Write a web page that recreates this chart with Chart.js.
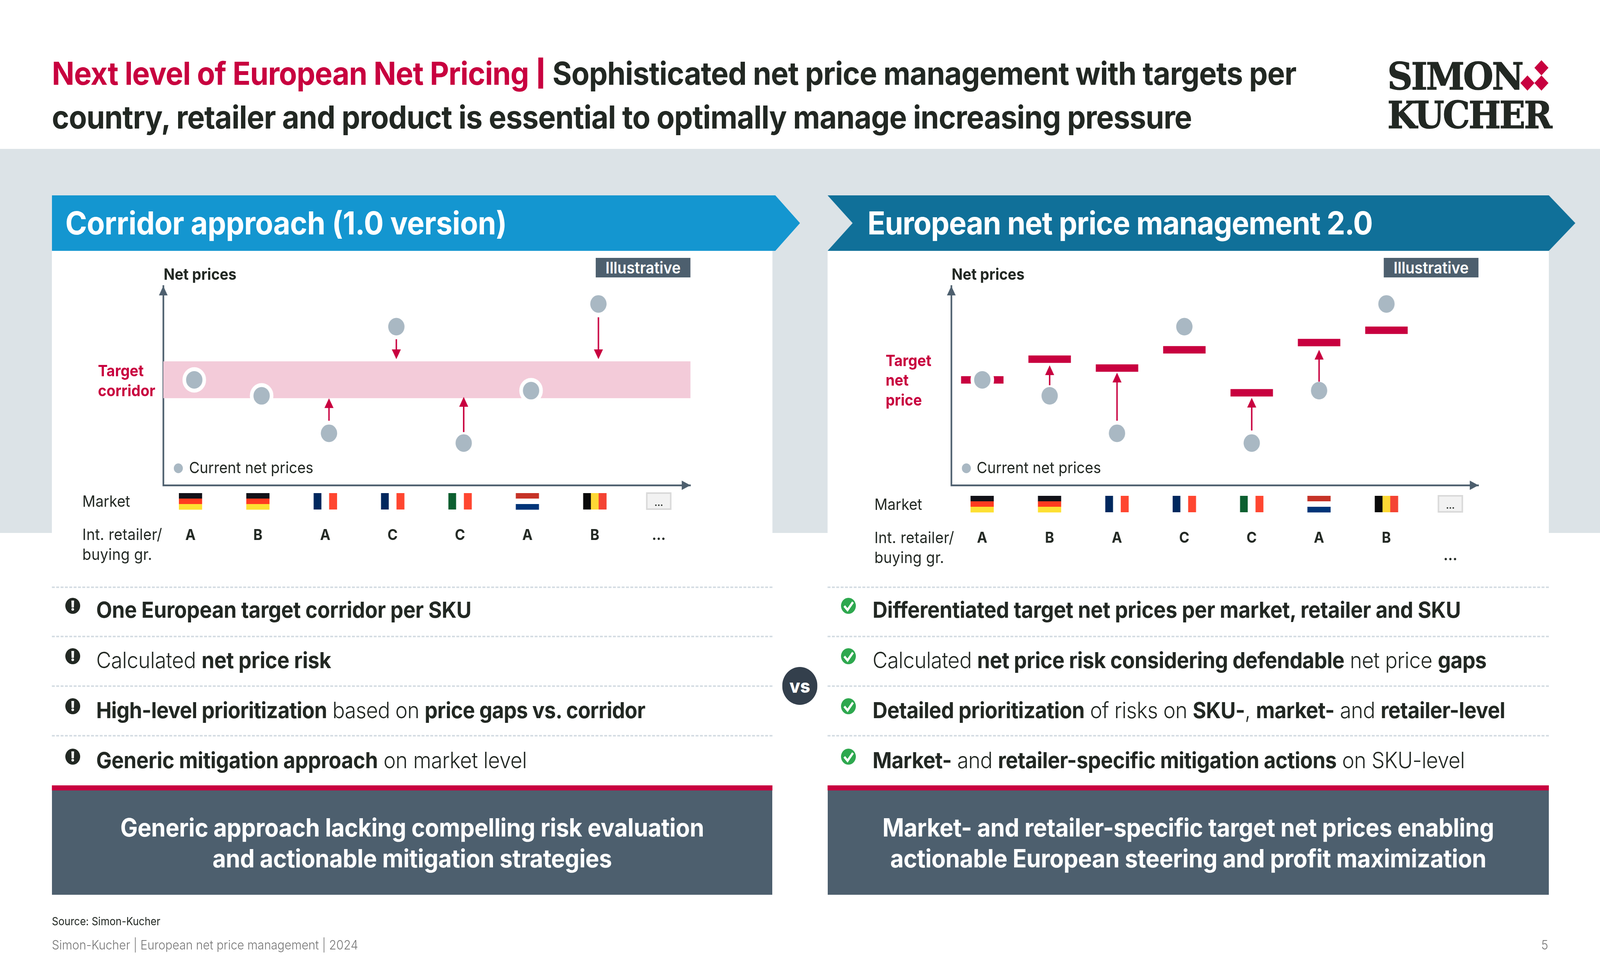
<!DOCTYPE html>
<html>
<head>
<meta charset="utf-8">
<title>European net price management</title>
<script src="https://cdn.jsdelivr.net/npm/chart.js@4"></script>
<style>
  html, body { margin: 0; padding: 0; background: #fff; overflow: hidden; }
  #page { position: relative; width: 4410px; height: 2480px; overflow: hidden; font-family: Inter, sans-serif; color: #222823; transform-origin: 0 0; }
  #page > * { position: absolute; }
  .t { white-space: nowrap; line-height: 1; }
  b { font-weight: 700; }
  .title { left: 143px; top: 132px; font-size: 81.5px; line-height: 112px; font-weight: 700; letter-spacing: -1.2px; white-space: nowrap; }
  .title em { font-style: normal; color: #c8003f; }
  .title i { font-style: normal; display: inline-block; transform: scaleY(0.8); -webkit-text-stroke: 2px #c8003f; }
  .logo { font: 700 96px 'DejaVu Serif'; letter-spacing: -4px; color: #222823; -webkit-text-stroke: 1.5px #222823; transform-origin: 0 0; }
  .band { left: 0; top: 381px; width: 4410px; height: 983px; background: #dce3e7; }
  .panel { top: 642px; height: 722px; background: #fff; }
  .head { top: 500px; height: 142px; color: #fff; font-size: 81px; font-weight: 700; line-height: 142px; white-space: nowrap; }
  .chart { top: 642px; }
  .tag { top: 660px; height: 50px; width: 261px; background: #4d5f6e; color: #fff; font-size: 41px; font-weight: 600; line-height: 50px; text-align: center; }
  .small { font-size: 40px; font-weight: 400; }
  .strong { font-size: 40px; font-weight: 700; }
  .red { color: #c8003f; }
  .dot { width: 25px; height: 25px; border-radius: 50%; background: #a9b8c3; top: 1186px; }
  .rule { height: 0; border-top: 4px dashed #d5dde3; }
  .row { font-size: 57px; font-weight: 300; line-height: 70px; white-space: nowrap; letter-spacing: -0.5px; }
  .icon { width: 41px; height: 41px; border-radius: 50%; color: #fff; text-align: center; font-weight: 900; font-size: 35px; line-height: 41px; }
  .icon svg { display: block; }
  .warn { background: #222823; }
  .ok { background: #2ea84f; }
  .redbar { top: 2010px; height: 13px; background: #c8003f; }
  .box { top: 2023px; height: 267px; background: #4d5f6e; color: #fff; font-size: 64px; font-weight: 700; line-height: 79px; text-align: center; letter-spacing: -0.5px; }
  .box div { margin-top: 55px; }
  .vs { left: 2156px; top: 1707px; width: 97px; height: 97px; border-radius: 50%; background: #333f4c; color: #fff; font-size: 48px; font-weight: 800; line-height: 97px; text-align: center; }
</style>
</head>
<body>
<div id="page">
  <div class="title"><em>Next level of European Net Pricing <i>|</i></em> Sophisticated net price management with targets per<br>country, retailer and product is essential to optimally manage increasing pressure</div>

  <!-- logo -->
  <div class="t logo" style="left:3824px;top:139px;">SIMON</div>
  <div class="t logo" style="left:3824px;top:238px;transform:scaleX(0.98);">KUCHER</div>
  <svg style="left:4190px;top:154px;" width="80" height="80" viewBox="0 0 80 80" fill="#c8003f">
    <path d="M58.6 0 L78 19.5 L58.6 39 L39.2 19.5 Z M20 39 L39.4 58.5 L20 78 L0.6 58.5 Z M58.6 39 L78 58.5 L58.6 78 L39.2 58.5 Z"/>
  </svg>

  <div class="band"></div>
  <div class="panel" style="left:143px;width:1986px;"></div>
  <div class="panel" style="left:2281px;width:1988px;"></div>

  <div class="head" style="left:143px;width:2062px;padding-left:37px;letter-spacing:-0.65px;box-sizing:border-box;background:#1496d0;clip-path:polygon(0 0,1994px 0,2062px 71px,1994px 142px,0 142px);">Corridor approach (1.0 version)</div>
  <div class="head" style="left:2281px;width:2061px;padding-left:110px;letter-spacing:-1.33px;box-sizing:border-box;background:#107099;clip-path:polygon(0 0,1988px 0,2061px 71px,1988px 142px,0 142px,69px 71px);">European net price management 2.0</div>

  <canvas id="leftChart" class="chart" style="left:143px;" width="1986" height="858"></canvas>
  <canvas id="rightChart" class="chart" style="left:2281px;" width="1988" height="858"></canvas>

  <!-- left chart labels -->
  <div class="tag" style="left:1642px;">Illustrative</div>
  <div class="t strong" style="left:451px;top:682px;">Net prices</div>
  <div class="t strong red" style="left:270px;top:929px;">Target</div>
  <div class="t strong red" style="left:270px;top:980px;">corridor</div>
  <div class="dot" style="left:479px;"></div>
  <div class="t small" style="left:521px;top:1177px;">Current net prices</div>
  <div class="t small" style="left:227px;top:1263px;">Market</div>
  <div class="t small" style="left:227px;top:1348px;letter-spacing:0.4px;">Int. retailer/</div>
  <div class="t small" style="left:227px;top:1399px;letter-spacing:0.4px;">buying gr.</div>

  <!-- right chart labels -->
  <div class="tag" style="left:3814px;">Illustrative</div>
  <div class="t strong" style="left:2623px;top:682px;">Net prices</div>
  <div class="t strong red" style="left:2441px;top:903px;">Target</div>
  <div class="t strong red" style="left:2441px;top:953px;">net</div>
  <div class="t strong red" style="left:2441px;top:1004px;">price</div>
  <div class="dot" style="left:2651px;"></div>
  <div class="t small" style="left:2692px;top:1177px;">Current net prices</div>
  <div class="t small" style="left:2410px;top:1271px;">Market</div>
  <div class="t small" style="left:2410px;top:1356px;letter-spacing:0.4px;">Int. retailer/</div>
  <div class="t small" style="left:2410px;top:1407px;letter-spacing:0.4px;">buying gr.</div>

  <!-- left list -->
  <div class="rule" style="left:143px;top:1501px;width:1986px;"></div>
  <div class="rule" style="left:143px;top:1627px;width:1986px;"></div>
  <div class="rule" style="left:143px;top:1754px;width:1986px;"></div>
  <div class="rule" style="left:143px;top:1881px;width:1986px;"></div>
  <div class="icon warn" style="left:180px;top:1530px;">!</div>
  <div class="icon warn" style="left:180px;top:1659px;">!</div>
  <div class="icon warn" style="left:180px;top:1787px;">!</div>
  <div class="icon warn" style="left:180px;top:1916px;">!</div>
  <div class="row" style="left:265px;top:1526px;"><b>One European target corridor per SKU</b></div>
  <div class="row" style="left:265px;top:1655px;">Calculated <b>net price risk</b></div>
  <div class="row" style="left:265px;top:1783px;letter-spacing:-0.9px;"><b>High-level prioritization</b> based on <b>price gaps vs. corridor</b></div>
  <div class="row" style="left:265px;top:1911px;"><b>Generic mitigation approach</b> on market level</div>

  <!-- right list -->
  <div class="rule" style="left:2281px;top:1501px;width:1988px;"></div>
  <div class="rule" style="left:2281px;top:1627px;width:1988px;"></div>
  <div class="rule" style="left:2281px;top:1754px;width:1988px;"></div>
  <div class="rule" style="left:2281px;top:1881px;width:1988px;"></div>
  <div class="icon ok" style="left:2318px;top:1530px;"><svg width="41" height="41"><polyline points="9,21 18,31 33,11" fill="none" stroke="#fff" stroke-width="6"/></svg></div>
  <div class="icon ok" style="left:2318px;top:1659px;"><svg width="41" height="41"><polyline points="9,21 18,31 33,11" fill="none" stroke="#fff" stroke-width="6"/></svg></div>
  <div class="icon ok" style="left:2318px;top:1787px;"><svg width="41" height="41"><polyline points="9,21 18,31 33,11" fill="none" stroke="#fff" stroke-width="6"/></svg></div>
  <div class="icon ok" style="left:2318px;top:1916px;"><svg width="41" height="41"><polyline points="9,21 18,31 33,11" fill="none" stroke="#fff" stroke-width="6"/></svg></div>
  <div class="row" style="left:2405px;top:1526px;"><b>Differentiated target net prices per market, retailer and SKU</b></div>
  <div class="row" style="left:2405px;top:1655px;letter-spacing:-0.7px;">Calculated <b>net price risk considering defendable</b> net price <b>gaps</b></div>
  <div class="row" style="left:2405px;top:1783px;letter-spacing:-0.76px;"><b>Detailed prioritization</b> of risks on <b>SKU-</b>, <b>market-</b> and <b>retailer-level</b></div>
  <div class="row" style="left:2405px;top:1911px;letter-spacing:-0.68px;"><b>Market-</b> and <b>retailer-specific mitigation actions</b> on SKU-level</div>

  <div class="vs">vs</div>

  <div class="redbar" style="left:143px;width:1986px;"></div>
  <div class="redbar" style="left:2281px;width:1988px;"></div>
  <div class="box" style="left:143px;width:1986px;"><div>Generic approach lacking compelling risk evaluation<br>and actionable mitigation strategies</div></div>
  <div class="box" style="left:2281px;width:1988px;"><div>Market- and retailer-specific target net prices enabling<br>actionable European steering and profit maximization</div></div>

  <div class="t" style="left:143px;top:2344px;font-size:28px;">Source: Simon-Kucher</div>
  <div class="t" style="left:143px;top:2403px;font-size:32.4px;font-weight:300;color:#777;">Simon-Kucher | European net price management | 2024</div>
  <div class="t" style="left:4248px;top:2403px;font-size:32.4px;font-weight:300;color:#777;">5</div>
</div>

<script>
// Chart values (y is an index on a 0-100 axis)
const markets = ["DE", "DE", "FR", "FR", "IT", "NL", "BE", "..."];
const retailers = ["A", "B", "A", "C", "C", "A", "B", "..."];
const currentPrices = [52.9, 44.9, 26.1, 79.6, 21.2, 47.5, 91.0];

const corridorLow = 43.7;
const corridorHigh = 62.2;
const leftRings = [true, true, false, false, false, true, false];
const leftArrowIndex = [2, 3, 4, 6];
const leftArrowFrom = [32.4, 73.3, 26.7, 84.3];
const leftArrowTo = [43.7, 63.3, 44.3, 63.3];

const targetPrices = [52.9, 63.3, 58.8, 68.0, 46.4, 71.6, 77.8];
const rightRings = [true, false, false, false, false, false, false];
const rightArrowIndex = [1, 2, 4, 5];
const rightArrowFrom = [50.2, 32.4, 27.5, 52.0];
const rightArrowTo = [60.2, 56.5, 43.9, 68.0];

const crimson = "#c8003f";
const slate = "#4d5f6e";
const dotGrey = "#a9b8c3";

// Stripes per flag, "v" = vertical bands, "h" = horizontal bands
const flagStyles = {
  DE: ["h", "#111118", "#ff3b20", "#fde032"],
  FR: ["v", "#00285e", "#ffffff", "#ff4630"],
  IT: ["v", "#0c5f30", "#ffffff", "#ff4630"],
  NL: ["h", "#c63327", "#ffffff", "#003478"],
  BE: ["v", "#0a0a0a", "#fdd835", "#f44333"],
};

// The slide is laid out 4410 wide, squeeze it if the window is narrower
const fit = window.innerWidth / 4410;
if (fit < 1) {
  document.getElementById("page").style.transform = `scaleX(${fit})`;
}

function drawHead(ctx, tipX, tipY, dirX, dirY, length, halfWidth) {
  ctx.beginPath();
  ctx.moveTo(tipX, tipY);
  ctx.lineTo(tipX - dirX * length - dirY * halfWidth, tipY - dirY * length - dirX * halfWidth);
  ctx.lineTo(tipX - dirX * length + dirY * halfWidth, tipY - dirY * length + dirX * halfWidth);
  ctx.closePath();
  ctx.fill();
}

// Corridor band goes under the marks
const corridorPlugin = {
  id: "corridor",
  beforeDatasetsDraw(chart, args, opts) {
    if (opts.low === undefined) return;
    const { ctx, chartArea, scales } = chart;
    const top = scales.y.getPixelForValue(opts.high);
    const bottom = scales.y.getPixelForValue(opts.low);
    ctx.save();
    ctx.fillStyle = "#f3cbd9";
    ctx.fillRect(chartArea.left, top, chartArea.right - chartArea.left, bottom - top);
    ctx.restore();
  },
};

// Gap arrows, axis arrow heads and the flag row
const overlayPlugin = {
  id: "overlay",
  afterDraw(chart, args, opts) {
    const { ctx, chartArea, scales } = chart;
    ctx.save();

    ctx.strokeStyle = crimson;
    ctx.fillStyle = crimson;
    ctx.lineWidth = 4;
    opts.arrowIndex.forEach((idx, i) => {
      const x = scales.x.getPixelForValue(idx);
      const y1 = scales.y.getPixelForValue(opts.arrowFrom[i]);
      const y2 = scales.y.getPixelForValue(opts.arrowTo[i]);
      const dir = y2 > y1 ? 1 : -1;
      ctx.beginPath();
      ctx.moveTo(x, y1);
      ctx.lineTo(x, y2 - dir * 20);
      ctx.stroke();
      drawHead(ctx, x, y2, 0, dir, 25, 12.5);
    });

    ctx.fillStyle = slate;
    drawHead(ctx, chartArea.left, chartArea.top, 0, -1, 24, 12);
    drawHead(ctx, chartArea.right, chartArea.bottom, 1, 0, 24, 12);

    markets.forEach((market, i) => {
      const cx = scales.xMarket.getPixelForValue(scales.xMarket.ticks[i].value);
      const cy = chartArea.bottom + opts.flagOffset;
      const w = 64;
      const h = 42;
      const style = flagStyles[market];
      if (!style) {
        ctx.fillStyle = "#f2f2f2";
        ctx.strokeStyle = "#d9d9d9";
        ctx.lineWidth = 4;
        ctx.fillRect(cx - 33, cy - 21, 66, 41);
        ctx.strokeRect(cx - 33, cy - 21, 66, 41);
        ctx.fillStyle = "#222823";
        ctx.font = "700 24px Inter";
        ctx.textAlign = "center";
        ctx.fillText("...", cx, cy + 12);
        return;
      }
      for (let s = 0; s < 3; s++) {
        ctx.fillStyle = style[s + 1];
        if (style[0] === "h") {
          ctx.fillRect(cx - w / 2, cy - h / 2 + (s * h) / 3, w, h / 3 + 0.5);
        } else {
          ctx.fillRect(cx - w / 2 + (s * w) / 3, cy - h / 2, w / 3 + 0.5, h);
        }
      }
    });
    ctx.restore();
  },
};

function makeChart(canvasId, cfg) {
  const datasets = [
    {
      label: "Current net prices",
      data: currentPrices.map((v, i) => ({ x: i, y: v })),
      order: 1,
      backgroundColor: dotGrey,
      borderColor: "#ffffff",
      pointRadius: cfg.rings.map((r) => (r ? 27.5 : 22.5)),
      pointBorderWidth: cfg.rings.map((r) => (r ? 10 : 0)),
      pointHoverRadius: 0,
    },
  ];
  if (cfg.targets) {
    datasets.push({
      label: "Target net price",
      data: cfg.targets.map((v, i) => ({ x: i, y: v })),
      order: 2,
      pointStyle: "line",
      pointRadius: 58.5,
      pointBorderWidth: 19,
      borderColor: crimson,
      backgroundColor: crimson,
    });
  }

  return new Chart(document.getElementById(canvasId), {
    type: "scatter",
    data: { datasets: datasets },
    plugins: [corridorPlugin, overlayPlugin],
    options: {
      responsive: false,
      animation: false,
      devicePixelRatio: 1,
      layout: { padding: { left: cfg.left, right: cfg.right, top: 90, bottom: 0 } },
      plugins: {
        legend: { display: false },
        tooltip: { enabled: false },
        corridor: { low: cfg.low, high: cfg.high },
        overlay: {
          arrowIndex: cfg.arrowIndex,
          arrowFrom: cfg.arrowFrom,
          arrowTo: cfg.arrowTo,
          flagOffset: cfg.flagOffset,
        },
      },
      scales: {
        x: { type: "linear", display: false, min: -0.46, max: 7.366 },
        // carries the axis line and the retailer letters, shifted to the flag columns
        xMarket: {
          type: "linear",
          position: "bottom",
          axis: "x",
          min: cfg.marketMin,
          max: cfg.marketMax,
          grid: { display: false, drawTicks: false },
          border: { display: true, color: slate, width: 4.5 },
          afterBuildTicks: (axis) => {
            axis.ticks = markets.map((m, i) => ({ value: i < 7 ? i : 6.95 }));
          },
          ticks: {
            autoSkip: false,
            maxRotation: 0,
            padding: cfg.tickPadding,
            color: "#222823",
            font: { family: "Inter", size: 38, weight: "700", lineHeight: 1.18 },
            callback: (value, index) => (index === 7 ? cfg.lastLabel : retailers[index]),
          },
          afterFit: (axis) => {
            axis.height = 258;
          },
        },
        y: {
          type: "linear",
          min: 0,
          max: 100,
          grid: { display: false, drawTicks: false },
          border: { display: true, color: slate, width: 4.5 },
          ticks: { display: false },
          afterFit: (axis) => {
            axis.width = 0;
          },
        },
      },
    },
  });
}

document.addEventListener("DOMContentLoaded", () => {
  makeChart("leftChart", {
    left: 307,
    right: 226,
    low: corridorLow,
    high: corridorHigh,
    rings: leftRings,
    arrowIndex: leftArrowIndex,
    arrowFrom: leftArrowFrom,
    arrowTo: leftArrowTo,
    flagOffset: 41,
    marketMin: -0.404,
    marketMax: 7.42,
    tickPadding: 106,
    lastLabel: "...",
  });

  makeChart("rightChart", {
    left: 341,
    right: 194,
    targets: targetPrices,
    rings: rightRings,
    arrowIndex: rightArrowIndex,
    arrowFrom: rightArrowFrom,
    arrowTo: rightArrowTo,
    flagOffset: 48,
    marketMin: -0.458,
    marketMax: 7.367,
    tickPadding: 113,
    lastLabel: ["", "..."],
  });
});
</script>
</body>
</html>
